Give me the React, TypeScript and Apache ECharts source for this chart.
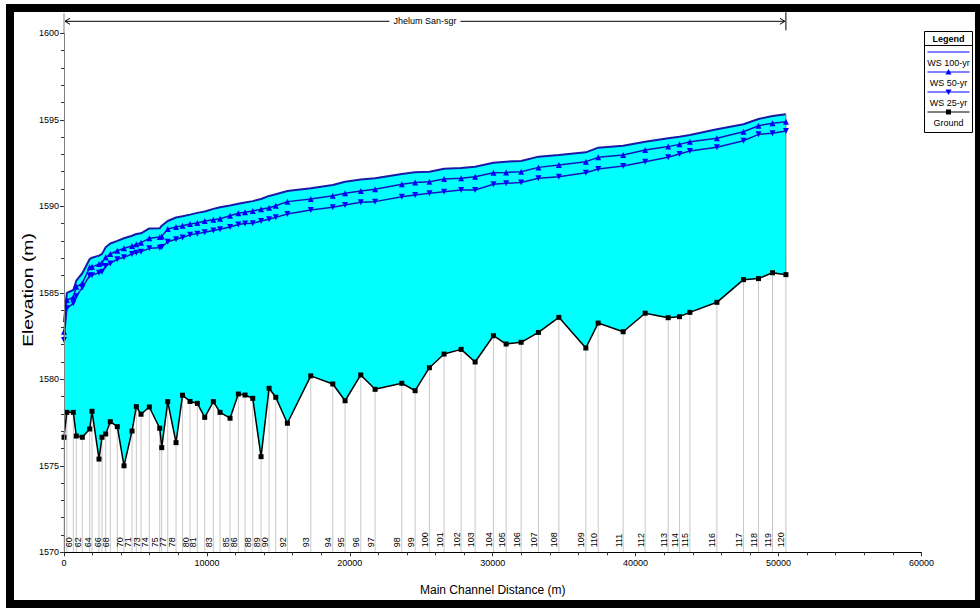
import React, { useEffect, useRef } from 'react';
import * as echarts from 'echarts';

// ---------- data ----------
const stationNames = [
  '58', '59', '60', '61', '62', '63', '64', '65', '66', '67',
  '68', '69', '70', '71', '72', '73', '74', '75', '76', '77',
  '78', '79', '80', '81', '82', '83', '84', '85', '86', '87',
  '88', '89', '90', '91', '92', '93', '94', '95', '96', '97',
  '98', '99', '100', '101', '102', '103', '104', '105', '106', '107',
  '108', '109', '110', '111', '112', '113', '114', '115', '116', '117',
  '118', '119', '120',
];

const shownStationLabels = [
  '60', '62', '64', '66', '68', '70', '71', '73', '74', '75', '77', '78', '80', '81', '83',
  '85', '86', '88', '89', '90', '92', '93', '94', '95', '96', '97', '98', '99', '100',
  '101', '102', '103', '104', '105', '106', '107', '108', '109', '110', '111', '112',
  '113', '114', '115', '116', '117', '118', '119', '120',
];

const distances = [
  0, 200, 651, 861, 1281, 1799, 1960, 2450, 2660, 2919,
  3241, 3731, 4200, 4760, 5061, 5390, 5971, 6699, 6839, 7259,
  7840, 8295, 8820, 9331, 9849, 10451, 10920, 11620, 12201, 12670,
  13209, 13790, 14350, 14819, 15631, 17269, 18809, 19670, 20769, 21770,
  23639, 24570, 25571, 26600, 27790, 28770, 30051, 30940, 31990, 33201,
  34629, 36519, 37380, 39130, 40670, 42280, 43071, 43799, 45689, 47551,
  48601, 49581, 50519,
];

const ground = [
  1576.65, 1578.09, 1578.09, 1576.72, 1576.65, 1577.13, 1578.15, 1575.39, 1576.65, 1576.84,
  1577.55, 1577.26, 1575.0, 1577.01, 1578.42, 1577.98, 1578.4, 1577.17, 1576.05, 1578.71,
  1576.34, 1579.08, 1578.72, 1578.61, 1577.8, 1578.71, 1578.09, 1577.75, 1579.15, 1579.09,
  1578.9, 1575.53, 1579.48, 1578.96, 1577.46, 1580.2, 1579.73, 1578.76, 1580.25, 1579.42,
  1579.77, 1579.34, 1580.67, 1581.46, 1581.73, 1581.0, 1582.52, 1582.04, 1582.14, 1582.71,
  1583.58, 1581.81, 1583.25, 1582.75, 1583.82, 1583.56, 1583.62, 1583.87, 1584.45, 1585.76,
  1585.82, 1586.16, 1586.05,
];

const ws100 = [
  1583.3, 1585.0, 1585.16, 1585.7, 1586.13, 1586.95, 1587.03, 1587.15, 1587.25, 1587.63,
  1587.85, 1588.0, 1588.15, 1588.3, 1588.4, 1588.44, 1588.72, 1588.73, 1588.88, 1589.15,
  1589.35, 1589.42, 1589.52, 1589.62, 1589.7, 1589.85, 1589.95, 1590.05, 1590.15, 1590.22,
  1590.3, 1590.42, 1590.6, 1590.7, 1590.88, 1591.04, 1591.23, 1591.42, 1591.55, 1591.62,
  1591.87, 1591.97, 1592.0, 1592.17, 1592.21, 1592.29, 1592.52, 1592.58, 1592.62, 1592.87,
  1592.96, 1593.12, 1593.39, 1593.5, 1593.73, 1593.93, 1594.02, 1594.12, 1594.45, 1594.74,
  1595.05, 1595.22, 1595.32,
];

const ws50 = [
  1582.75, 1584.58, 1584.74, 1585.35, 1585.55, 1586.47, 1586.5, 1586.66, 1586.74, 1587.05,
  1587.24, 1587.43, 1587.57, 1587.7, 1587.8, 1587.9, 1588.15, 1588.22, 1588.26, 1588.69,
  1588.8, 1588.88, 1588.98, 1589.04, 1589.15, 1589.22, 1589.28, 1589.45, 1589.6, 1589.65,
  1589.73, 1589.83, 1589.92, 1590.03, 1590.27, 1590.42, 1590.61, 1590.75, 1590.88, 1590.98,
  1591.27, 1591.37, 1591.42, 1591.58, 1591.62, 1591.71, 1591.94, 1591.96, 1592.0, 1592.25,
  1592.39, 1592.58, 1592.83, 1592.97, 1593.25, 1593.45, 1593.58, 1593.73, 1593.93, 1594.31,
  1594.66, 1594.8, 1594.89,
];

const ws25 = [
  1582.27, 1584.1, 1584.39, 1584.8, 1585.3, 1586.0, 1586.02, 1586.16, 1586.22, 1586.55,
  1586.7, 1586.94, 1587.05, 1587.24, 1587.32, 1587.38, 1587.57, 1587.6, 1587.65, 1587.95,
  1588.1, 1588.2, 1588.35, 1588.42, 1588.5, 1588.6, 1588.67, 1588.8, 1588.95, 1589.0,
  1589.02, 1589.15, 1589.25, 1589.36, 1589.55, 1589.79, 1589.94, 1590.08, 1590.23, 1590.27,
  1590.55, 1590.65, 1590.75, 1590.84, 1590.94, 1590.94, 1591.27, 1591.33, 1591.37, 1591.62,
  1591.71, 1591.94, 1592.16, 1592.33, 1592.58, 1592.83, 1593.02, 1593.2, 1593.41, 1593.79,
  1594.16, 1594.22, 1594.35,
];

const reachName = 'Jhelum San-sgr';
const seriesNames = ['WS 100-yr', 'WS 50-yr', 'WS 25-yr', 'Ground'];
const legendTitle = 'Legend';
const xAxisTitle = 'Main Channel Distance (m)';
const yAxisTitle = 'Elevation (m)';
const xRange = { min: 0, max: 60000, interval: 10000 };
const yRange = { min: 1570, max: 1600, interval: 5 };

// ---------- styling ----------
const NARROW = "'Liberation Sans Narrow', 'Liberation Sans', Arial, sans-serif";
const SANS = "'Liberation Sans', Arial, sans-serif";
const WS_LINE = '#1616c0';
const WS_MARK = '#0000ff';

const pairs = (ys: number[]) => distances.map((d, i) => [d, ys[i]]);

function buildLegend(): any[] {
  const x0 = 924.5;
  const w = 48;
  const cx = x0 + w / 2;
  const els: any[] = [
    { type: 'rect', shape: { x: x0, y: 31.5, width: w, height: 101 }, style: { fill: '#fff', stroke: '#000', lineWidth: 1 } },
    {
      type: 'text', x: cx, y: 38.5,
      style: { text: legendTitle, fontSize: 9, fontWeight: 'bold', fontFamily: NARROW, fill: '#000', align: 'center', verticalAlign: 'middle', textAlign: 'center', textVerticalAlign: 'middle' },
    },
    { type: 'line', shape: { x1: x0, y1: 45.5, x2: x0 + w, y2: 45.5 }, style: { stroke: '#000', lineWidth: 1 } },
  ];
  const rows = [
    { name: seriesNames[0], color: WS_MARK, marker: 'none' },
    { name: seriesNames[1], color: WS_MARK, marker: 'up' },
    { name: seriesNames[2], color: WS_MARK, marker: 'down' },
    { name: seriesNames[3], color: '#000', marker: 'square' },
  ];
  rows.forEach((r, i) => {
    const ly = 52 + i * 20;
    const ty = 62.5 + i * 20;
    els.push({ type: 'line', shape: { x1: x0 + 3, y1: ly, x2: x0 + w - 3, y2: ly }, style: { stroke: r.color, lineWidth: 1.2 } });
    if (r.marker === 'up') {
      els.push({ type: 'polygon', shape: { points: [[cx - 3, ly + 2.5], [cx + 3, ly + 2.5], [cx, ly - 3]] }, style: { fill: r.color } });
    } else if (r.marker === 'down') {
      els.push({ type: 'polygon', shape: { points: [[cx - 3, ly - 2.5], [cx + 3, ly - 2.5], [cx, ly + 3]] }, style: { fill: r.color } });
    } else if (r.marker === 'square') {
      els.push({ type: 'rect', shape: { x: cx - 2.5, y: ly - 2.5, width: 5, height: 5 }, style: { fill: r.color } });
    }
    els.push({
      type: 'text', x: cx, y: ty,
      style: { text: r.name, fontSize: 9, fontFamily: NARROW, fill: '#000', align: 'center', verticalAlign: 'middle', textAlign: 'center', textVerticalAlign: 'middle' },
    });
  });
  // y-axis title, stretched along its reading direction like the reference
  els.push({
    type: 'text', x: 28, y: 290, rotation: Math.PI / 2, scaleX: 1.38, scaleY: 1,
    style: { text: yAxisTitle, fontSize: 14, fontFamily: SANS, fill: '#000', align: 'center', verticalAlign: 'middle', textAlign: 'center', textVerticalAlign: 'middle' },
  });
  return els.map((e) => ({ ...e, z: 100 }));
}

export default function App() {
  const ref = useRef<HTMLDivElement>(null);

  useEffect(() => {
    if (!ref.current) return;
    const chart = echarts.init(ref.current, undefined, { renderer: 'svg' });
    const last = distances.length - 1;
    const plain = (v: number) => String(v);

    const option: any = {
      animation: false,
      backgroundColor: '#ffffff',
      grid: { left: 64, right: 58.6, top: 33.3, bottom: 55.7, containLabel: false },
      xAxis: {
        type: 'value',
        min: xRange.min,
        max: xRange.max,
        interval: xRange.interval,
        z: 10,
        name: xAxisTitle,
        nameLocation: 'middle',
        nameGap: 32,
        nameTextStyle: { fontSize: 12, fontFamily: SANS, color: '#000' },
        axisLine: { show: true, lineStyle: { color: '#000', width: 1 } },
        axisTick: { show: true, length: 4, lineStyle: { color: '#333' } },
        minorTick: { show: true, splitNumber: 5, length: 3, lineStyle: { color: '#333' } },
        splitLine: { show: false },
        axisLabel: { fontSize: 9, fontFamily: NARROW, color: '#000', margin: 6, formatter: plain },
      },
      yAxis: {
        type: 'value',
        min: yRange.min,
        max: yRange.max,
        interval: yRange.interval,
        z: 10,
        axisLine: { show: true, lineStyle: { color: '#808080', width: 1 } },
        axisTick: { show: true, length: 4, lineStyle: { color: '#333' } },
        minorTick: { show: true, splitNumber: 5, length: 3, lineStyle: { color: '#333' } },
        splitLine: { show: false },
        axisLabel: { fontSize: 9, fontFamily: NARROW, color: '#000', margin: 5, formatter: plain },
      },
      graphic: { elements: buildLegend() },
      series: [
        {
          name: seriesNames[0],
          type: 'line',
          data: pairs(ws100),
          symbol: 'none',
          z: 1,
          lineStyle: { color: '#1a1aa8', width: 2 },
          areaStyle: { color: '#00ffff', opacity: 1, origin: 'start' },
        },
        {
          name: 'ground-fill',
          type: 'line',
          data: pairs(ground),
          symbol: 'none',
          z: 1,
          silent: true,
          lineStyle: { opacity: 0 },
          areaStyle: { color: '#ffffff', opacity: 1, origin: 'start' },
        },
        {
          name: 'stations',
          type: 'custom',
          z: 2,
          clip: false,
          silent: true,
          data: distances.map((d, i) => [d, ground[i], ws100[i], i]),
          renderItem: (_params: any, api: any) => {
            const i = api.value(3);
            const x = api.value(0);
            const top = api.coord([x, api.value(1)]);
            const base = api.coord([x, yRange.min]);
            const children: any[] = [
              { type: 'line', shape: { x1: top[0], y1: top[1], x2: base[0], y2: base[1] }, style: { stroke: '#c8c8c8', lineWidth: 1 } },
            ];
            if (i === last) {
              const ws = api.coord([x, api.value(2)]);
              children.push({ type: 'line', shape: { x1: ws[0], y1: ws[1], x2: top[0], y2: top[1] }, style: { stroke: '#7a7a7a', lineWidth: 1 } });
            }
            const name = stationNames[i];
            if (shownStationLabels.indexOf(name) >= 0) {
              children.push({
                type: 'text',
                x: base[0],
                y: base[1] - 5,
                rotation: Math.PI / 2,
                style: {
                  text: name, fontSize: 9, fontFamily: SANS, fill: '#000',
                  align: 'left', verticalAlign: 'bottom', textAlign: 'left', textVerticalAlign: 'bottom',
                },
              });
            }
            return { type: 'group', children };
          },
        },
        {
          name: seriesNames[1],
          type: 'line',
          data: pairs(ws50),
          z: 3,
          symbol: 'triangle',
          symbolSize: 6,
          itemStyle: { color: WS_MARK },
          lineStyle: { color: WS_LINE, width: 1.5 },
        },
        {
          name: seriesNames[2],
          type: 'line',
          data: pairs(ws25),
          z: 3,
          symbol: 'triangle',
          symbolRotate: 180,
          symbolSize: 6,
          itemStyle: { color: WS_MARK },
          lineStyle: { color: WS_LINE, width: 1.5 },
        },
        {
          name: seriesNames[3],
          type: 'line',
          data: pairs(ground),
          z: 4,
          symbol: 'rect',
          symbolSize: 5,
          itemStyle: { color: '#000' },
          lineStyle: { color: '#000', width: 1.5 },
        },
        {
          name: 'reach',
          type: 'custom',
          z: 5,
          clip: false,
          silent: true,
          data: [[distances[0], distances[last]]],
          renderItem: (_params: any, api: any) => {
            const a = api.coord([api.value(0), yRange.max]);
            const c = api.coord([api.value(1), yRange.max]);
            const y = a[1] - 12;
            return {
              type: 'group',
              children: [
                { type: 'line', shape: { x1: a[0], y1: a[1] - 20, x2: a[0], y2: a[1] }, style: { stroke: '#808080', lineWidth: 1 } },
                { type: 'line', shape: { x1: a[0] + 1, y1: y, x2: c[0] - 1, y2: y }, style: { stroke: '#000', lineWidth: 1 } },
                { type: 'polyline', shape: { points: [[a[0] + 6, y - 3], [a[0] + 1, y], [a[0] + 6, y + 3]] }, style: { stroke: '#000', fill: null, lineWidth: 1 } },
                { type: 'polyline', shape: { points: [[c[0] - 6, y - 3], [c[0] - 1, y], [c[0] - 6, y + 3]] }, style: { stroke: '#000', fill: null, lineWidth: 1 } },
                { type: 'line', shape: { x1: c[0], y1: y - 9, x2: c[0], y2: y + 9 }, style: { stroke: '#000', lineWidth: 1 } },
                {
                  type: 'text',
                  x: (a[0] + c[0]) / 2,
                  y,
                  style: {
                    text: reachName, fontSize: 9, fontFamily: NARROW, fill: '#000',
                    backgroundColor: '#fff', padding: [1, 4],
                    align: 'center', verticalAlign: 'middle', textAlign: 'center', textVerticalAlign: 'middle',
                  },
                },
              ],
            };
          },
        },
      ],
    };

    chart.setOption(option);
    return () => chart.dispose();
  }, []);

  return (
    <div style={{ position: 'fixed', left: 0, top: 0, width: 980, height: 608, background: '#fff' }}>
      <div ref={ref} style={{ position: 'absolute', left: 0, top: 0, width: 980, height: 608 }} />
      <div
        style={{
          position: 'absolute', left: 6, top: 4, width: 974, height: 604,
          boxSizing: 'border-box', borderStyle: 'solid', borderColor: '#000',
          borderWidth: '8px 5px 8px 8px', pointerEvents: 'none',
        }}
      />
    </div>
  );
}
